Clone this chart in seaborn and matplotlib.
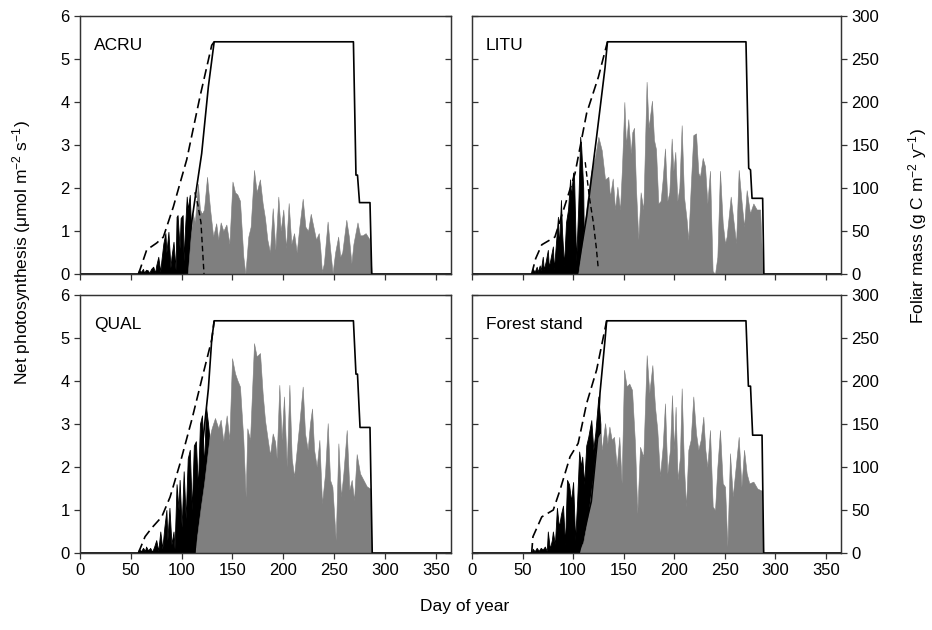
import matplotlib
matplotlib.use("Agg")
import matplotlib.pyplot as plt
import seaborn as sns

# ---------------- data ----------------
# ACRU
acru_black_day = [57, 58, 60, 62, 63, 65, 67, 68, 70, 72, 74, 75, 77, 79, 80, 82, 84, 85, 87, 89,
                  90, 92, 94, 95, 96, 98, 99, 101, 102, 103, 105, 106, 108, 109, 110, 112]
acru_black_val = [0, 0.10, 0.05, 0.12, 0.03, 0.10, 0.08, 0.02, 0.12, 0.17, 0.03, 0.2, 0.4, 0.05, 0.3, 0.71, 0.95, 0.5, 0.98, 0.15,
                  0.4, 0.75, 0.1, 1.33, 1.37, 0.6, 1.3, 1.37, 0.3, 0.9, 1.8, 1.5, 1.84, 1.2, 1.0, 0]
acru_gray_day = [106, 109, 111, 113, 116, 118, 120, 122, 125, 128, 131, 134, 136, 138.4, 141, 144, 147, 150, 152.5, 154.8,
                 157.4, 160.7, 162.7, 165.6, 167.9, 171.2, 173.8, 177, 179.7, 182, 184.3, 186.9, 189.6, 192.2, 195.1, 197.4, 200, 202.7, 205.3, 207.9,
                 210.6, 213.2, 215.8, 219.1, 221.7, 224.4, 227, 229.6, 232.2, 234.9, 236.5, 238, 240, 243.6, 246, 248.5, 251, 254, 256, 258,
                 262, 264.5, 267, 269, 273, 275.5, 278, 281, 285, 287]
acru_gray_val = [0, 0.9, 1.4, 1.2, 2.1, 1.5, 1.4, 1.5, 2.26, 1.5, 0.87, 1.18, 0.8, 1.2, 1.0, 1.15, 0.7, 2.15, 1.9, 1.85,
                 1.7, 0.4, 0.0, 0.87, 1.1, 2.42, 1.9, 2.2, 1.64, 1.3, 0.8, 0.5, 1.53, 0.56, 1.8, 1.0, 1.5, 0.6, 1.65, 0.7,
                 0.95, 0.5, 1.1, 1.75, 1.1, 1.0, 1.4, 1.1, 0.8, 0.95, 0.56, 0.05, 0.25, 1.22, 0.6, 0.02, 0.5, 0.87, 0.4, 0.5,
                 1.26, 0.87, 0.25, 0.7, 1.2, 0.9, 0.9, 0.95, 0.8, 0]
acru_mass_day = [1, 102, 108, 114.8, 119.7, 126.3, 132, 269, 271.5, 273, 275, 285.3, 287, 365]
acru_mass_val = [0, 0, 45, 101, 140, 218, 270, 270, 115, 115, 83, 83, 0, 0]
acru_pot_day = [57.4, 59, 65.6, 75.4, 82, 91.8, 105, 118, 129.6, 132]
acru_pot_val = [0, 5, 28, 36, 43, 78, 133, 206, 266, 270]
acru_old_day = [113, 116, 119, 121, 122]
acru_old_val = [1.9, 1.6, 1.2, 0.4, 0]

# LITU
litu_black_day = [59, 60, 62, 64, 65, 67, 68, 70, 71, 73, 75, 76, 78, 80, 81, 83, 85, 86, 88, 89,
                  91, 93, 95, 97, 98, 100, 101, 103, 105, 107, 108, 110, 111]
litu_black_val = [0, 0.12, 0.05, 0.17, 0.05, 0.2, 0.08, 0.4, 0.1, 0.3, 0.56, 0.15, 0.4, 0.64, 0.1, 0.7, 1.33, 0.6, 1.72, 1.0,
                  0.2, 1.2, 1.5, 2.2, 1.8, 2.36, 2.2, 0.3, 1.5, 3.19, 2.96, 2.0, 0]
litu_gray_day = [105, 110, 115, 118, 121.6, 125, 128.3, 131.6, 134.9, 136.5, 139.2, 141.5, 143.8, 146.4, 148.4, 150.7, 152.3, 154.6, 157, 158.6,
                 160.3, 162.2, 164.5, 166.8, 169.5, 172.7, 174.7, 178, 180, 182, 184.3, 186.6, 188.6, 190.9, 193.2, 195.2, 197.5, 199.2, 201.1, 203.1,
                 205.1, 207.4, 209.7, 212.3, 214, 216.3, 218.9, 221.6, 223.9, 225.5, 228.2, 230.5, 232.8, 235.4, 238, 240.4, 242.7, 245.3, 248, 250.3,
                 251.9, 255.9, 258.5, 261.2, 263.8, 266.8, 269.1, 271.7, 275, 278.3, 281.6, 285, 287.5]
litu_gray_val = [0, 0.9, 1.9, 2.4, 2.71, 3.19, 2.88, 2.2, 2.26, 1.8, 2.22, 1.5, 2.03, 1.49, 2.5, 4.0, 3.0, 3.6, 2.8, 3.3,
                 3.4, 2.0, 0.8, 1.9, 1.5, 4.47, 3.4, 4.03, 3.12, 2.9, 1.64, 1.7, 2.2, 2.92, 1.7, 1.9, 3.15, 2.4, 2.84, 1.7,
                 2.0, 3.46, 1.8, 1.26, 0.79, 2.0, 3.23, 3.27, 2.35, 2.26, 2.7, 2.5, 1.64, 2.4, 0.07, 0.0, 0.4, 2.4, 1.18, 0.71,
                 0.87, 1.8, 1.26, 0.71, 2.42, 1.64, 1.1, 1.95, 1.41, 1.64, 1.5, 1.5, 0]
litu_mass_day = [1, 104, 113.4, 123.3, 131.6, 134, 271, 273.7, 275.5, 277, 287.5, 288.7, 365]
litu_mass_val = [0, 0, 67, 160, 240, 270, 270, 123, 121, 88, 88, 0, 0]
litu_pot_day = [59, 63, 69, 82, 93.6, 101.9, 113.4, 125, 134]
litu_pot_val = [0, 18, 34, 43, 86, 117, 187, 229, 270]
litu_old_day = [112, 116, 120, 123, 125]
litu_old_val = [2.6, 1.8, 1.2, 0.6, 0.1]

# QUAL
qual_black_day = [57, 58, 60, 62, 64, 65, 67, 69, 71, 73, 75, 77, 79, 81, 83, 85, 86, 88, 90, 92,
                  93, 95, 97, 98, 100, 102, 104, 106, 108, 110, 112, 114, 116, 118, 120, 122, 124, 126, 128, 129]
qual_black_val = [0, 0.1, 0.04, 0.12, 0.05, 0.15, 0.06, 0.12, 0.03, 0.15, 0.3, 0.05, 0.5, 0.1, 0.6, 1.0, 0.3, 1.05, 0.2, 0.5,
                  0.1, 1.6, 1.0, 1.7, 0.6, 1.9, 0.8, 2.2, 2.4, 1.0, 2.5, 2.6, 1.5, 3.0, 3.2, 2.0, 3.4, 3.0, 2.5, 0]
qual_gray_day = [113, 116, 119, 122, 125, 127.5, 129.5, 132.8, 136.1, 138.4, 141, 144.3, 146.9, 149.6, 152.5, 154.8, 157.4, 160.7, 163, 164.6,
                 167.3, 171.2, 173.8, 177.1, 179.7, 182, 184.3, 186.9, 189.6, 191.9, 193.5, 196.1, 198.4, 200.7, 203.4, 206, 208.3, 210.6, 213.2, 215.8,
                 219.1, 221.4, 224, 226.3, 228.3, 230.3, 232.9, 235.5, 238.1, 241.1, 243.7, 246, 248.3, 251.6, 254.2, 256.8, 259.1, 262.4, 265, 267.3,
                 269.6, 272.2, 275.5, 278.8, 282.1, 285.4, 287]
qual_gray_val = [0, 0.55, 1.1, 1.6, 2.2, 2.7, 2.9, 3.14, 2.9, 3.1, 2.6, 3.2, 2.63, 4.53, 4.18, 4.02, 3.87, 2.63, 1.3, 2.9,
                 2.63, 4.88, 4.57, 4.65, 3.71, 3.09, 2.7, 2.28, 2.78, 2.59, 2.2, 3.91, 2.63, 3.64, 2.0, 3.91, 2.2, 1.78, 2.4, 3.02,
                 3.87, 2.78, 2.4, 3.02, 3.36, 2.4, 2.0, 2.63, 1.15, 1.85, 3.02, 1.7, 1.54, 0.3, 2.55, 1.31, 1.85, 2.86, 1.47, 1.7,
                 1.23, 2.3, 1.85, 1.7, 1.55, 1.5, 0]
qual_mass_day = [1, 113, 121, 126.3, 129.6, 132, 269, 271.5, 273, 275.5, 285.3, 287.5, 365]
qual_mass_val = [0, 0, 131, 191, 248, 270, 270, 208, 208, 146, 146, 0, 0]
qual_pot_day = [57.4, 64, 70.5, 80.4, 88.6, 98.4, 110, 121.3, 129.6, 132]
qual_pot_val = [0, 19, 29, 42, 65, 104, 155, 209, 248, 270]

# Forest stand
stand_black_day = [59, 60, 62, 64, 66, 68, 70, 72, 74, 75, 77, 79, 80, 82, 84, 86, 88, 90, 92, 94,
                   96, 98, 100, 102, 104, 106, 108, 109, 111, 113, 115, 118, 120, 122, 125, 127, 128]
stand_black_val = [0, 0.1, 0.04, 0.12, 0.05, 0.12, 0.08, 0.15, 0.05, 0.5, 0.1, 0.3, 0.5, 0.2, 1.05, 0.6, 0.9, 1.1, 0.2, 1.7,
                   1.6, 1.2, 1.65, 0.3, 1.2, 2.36, 2.0, 2.24, 1.6, 2.5, 2.7, 3.09, 2.4, 2.8, 3.64, 3.0, 0]
stand_gray_day = [105, 110, 115, 120, 123.4, 126.9, 128.3, 131.6, 133.9, 135.9, 138.2, 140.5, 143.1, 145.7, 148, 150.4, 153, 155.6, 158.3, 161.2,
                  163.5, 166.2, 169.5, 172.8, 175.4, 178.4, 181, 183.3, 185.9, 188.6, 190.9, 193.2, 195.8, 197.8, 199.8, 201.4, 203.4, 205.7, 207.4, 209.7,
                  211.7, 214, 216.3, 218.9, 221.6, 223.9, 226.2, 228.8, 230.8, 232.8, 235.4, 238.1, 240.4, 242.7, 245.3, 248, 250.3, 252.6, 255.2, 257.9,
                  260.2, 263.8, 266.5, 269.1, 271.7, 274.3, 278.3, 282.2, 286.5, 288.2]
stand_gray_val = [0, 0.25, 0.9, 1.8, 2.63, 2.78, 2.4, 3.02, 2.55, 2.94, 2.63, 2.7, 2.0, 2.7, 1.62, 4.26, 3.87, 3.94, 3.79, 2.55,
                  0.92, 2.47, 2.24, 4.6, 3.72, 4.37, 3.4, 2.86, 1.78, 2.47, 3.48, 1.85, 2.4, 3.67, 2.4, 3.4, 1.7, 2.24, 3.83, 2.0,
                  1.08, 2.4, 2.63, 3.64, 2.78, 2.4, 2.63, 3.17, 2.4, 2.0, 2.86, 1.08, 1.0, 2.0, 2.86, 1.62, 1.54, 0.15, 2.32, 1.31,
                  1.85, 2.7, 1.54, 2.4, 1.85, 1.62, 1.66, 1.5, 1.45, 0]
stand_mass_day = [1, 106, 118, 124, 126.6, 131.6, 133.2, 271, 273.4, 275.5, 277.6, 286.9, 288.5, 365]
stand_mass_val = [0, 0, 60, 131, 186, 248, 270, 270, 194, 194, 137, 137, 0, 0]
stand_pot_day = [59, 60.3, 69, 80.4, 87, 97, 105, 113.4, 123.3, 133.2]
stand_pot_val = [0, 19, 42, 50, 73, 112, 127.5, 174, 213, 270]

panel_names = ["ACRU", "LITU", "QUAL", "Forest stand"]
x_ticks = [0, 50, 100, 150, 200, 250, 300, 350]
left_ticks = [0, 1, 2, 3, 4, 5, 6]
right_ticks = [0, 50, 100, 150, 200, 250, 300]

# ---------------- style ----------------
sns.set_style("ticks")
plt.rcParams["font.family"] = ["Liberation Sans", "DejaVu Sans"]
plt.rcParams["mathtext.fontset"] = "custom"
plt.rcParams["mathtext.rm"] = "Liberation Sans"
plt.rcParams["mathtext.it"] = "Liberation Sans:italic"
plt.rcParams["text.color"] = "black"
plt.rcParams["xtick.labelcolor"] = "black"
plt.rcParams["ytick.labelcolor"] = "black"

GRAY = "#7f7f7f"
SPINE = "#333333"

fig = plt.figure(figsize=(9.32, 6.3), dpi=100)

W, H = 932, 630
boxes = [
    (80, 16, 371, 258),
    (472, 16, 369, 258),
    (80, 295, 371, 258),
    (472, 295, 369, 258),
]

panels = [
    (acru_black_day, acru_black_val, acru_gray_day, acru_gray_val, acru_mass_day, acru_mass_val, acru_pot_day, acru_pot_val, (acru_old_day, acru_old_val)),
    (litu_black_day, litu_black_val, litu_gray_day, litu_gray_val, litu_mass_day, litu_mass_val, litu_pot_day, litu_pot_val, (litu_old_day, litu_old_val)),
    (qual_black_day, qual_black_val, qual_gray_day, qual_gray_val, qual_mass_day, qual_mass_val, qual_pot_day, qual_pot_val, None),
    (stand_black_day, stand_black_val, stand_gray_day, stand_gray_val, stand_mass_day, stand_mass_val, stand_pot_day, stand_pot_val, None),
]

for i, (box, pdata, name) in enumerate(zip(boxes, panels, panel_names)):
    x0, y0, w, h = box
    ax = fig.add_axes([x0 / W, 1 - (y0 + h) / H, w / W, h / H])
    bd, bv, gd, gv, md, mv, pd_, pv, old = pdata

    # black first, gray (new foliage) drawn over it
    ax.fill_between(bd, 0, bv, color="black", lw=0.6, edgecolor="black")
    ax.fill_between(gd, 0, gv, color=GRAY, lw=0.4, edgecolor=GRAY)
    if old is not None:
        ax.plot(old[0], old[1], color="black", lw=1.0, ls=(0, (4, 2.5)))

    ax.set_xlim(0, 365)
    ax.set_ylim(0, 6)
    ax.set_xticks(x_ticks)
    ax.set_yticks(left_ticks)

    # foliar mass on the right-hand scale
    axr = ax.twinx()
    sns.lineplot(x=md, y=mv, ax=axr, color="black", lw=1.2, estimator=None, sort=False)
    sns.lineplot(x=pd_, y=pv, ax=axr, color="black", lw=1.2, estimator=None, sort=False,
                 linestyle=(0, (6, 3)))
    axr.set_ylim(0, 300)
    axr.set_yticks(right_ticks)
    axr.set_xlim(0, 365)
    axr.set_ylabel("")

    left_col = (i % 2 == 0)
    bottom_row = (i >= 2)

    ax.tick_params(axis="x", direction="out", length=4, width=0.9, color=SPINE,
                   labelsize=12, labelbottom=bottom_row, pad=3)
    if left_col:
        ax.tick_params(axis="y", direction="out", length=4, width=0.9, color=SPINE, labelsize=12)
        axr.tick_params(axis="y", direction="in", length=4, width=0.9, color=SPINE, labelright=False)
    else:
        ax.tick_params(axis="y", direction="in", length=4, width=0.9, color=SPINE, labelleft=False)
        axr.tick_params(axis="y", direction="out", length=4, width=0.9, color=SPINE, labelsize=12)

    for a in (ax, axr):
        for s in a.spines.values():
            s.set_visible(True)
            s.set_color(SPINE)
            s.set_linewidth(0.9)

    ax.text(0.037, 0.885, name, transform=ax.transAxes, fontsize=12.5, va="center", ha="left")

fig.text(22 / W, 1 - 253 / H, "Net photosynthesis (\u03bcmol m$^{-2}$ s$^{-1}$)",
         rotation=90, va="center", ha="center", fontsize=12.5)
fig.text(918 / W, 1 - 226 / H, "Foliar mass (g C m$^{-2}$ y$^{-1}$)",
         rotation=90, va="center", ha="center", fontsize=12.5)
fig.text(465 / W, 1 - 606 / H, "Day of year", va="center", ha="center", fontsize=12.5)

fig.savefig("out.png", dpi=100)
